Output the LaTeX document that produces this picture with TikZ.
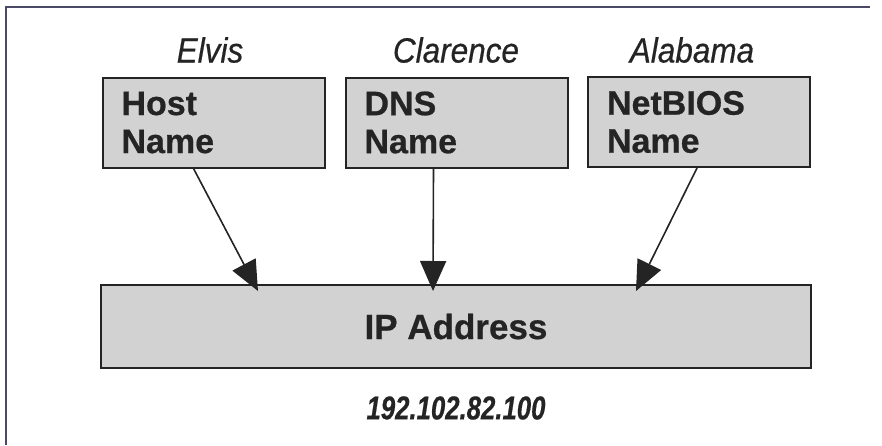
\documentclass[tikz,border=0pt]{standalone}
\usepackage{fontspec}
\setmainfont{Liberation Sans}
\newfontfamily\boxfont[FakeBold=0.6]{Liberation Sans}
\newfontfamily\labelfont[FakeStretch=0.9,FakeBold=0.5]{Liberation Sans}
\newfontfamily\numfont[FakeStretch=0.78,FakeBold=0.5]{Liberation Sans}
\usetikzlibrary{arrows.meta,calc}
\definecolor{boxgray}{HTML}{D2D2D2}
\definecolor{edge}{HTML}{242424}
\definecolor{frame}{HTML}{4A4A68}
\tikzset{
  namebox/.style={draw=edge, line width=2pt, fill=boxgray, minimum width=222pt, minimum height=90pt,
    text width=184pt, inner xsep=19pt, align=left, font=\boxfont\fontsize{34}{38}\selectfont\bfseries, text=edge},
  ipbox/.style={draw=edge, line width=2pt, fill=boxgray, minimum width=710pt, minimum height=83pt,
    font=\boxfont\fontsize{35}{40}\selectfont\bfseries, text=edge},
  toplabel/.style={font=\labelfont\fontsize{35}{40}\selectfont\itshape, text=edge},
  numlabel/.style={font=\numfont\fontsize{33}{38}\selectfont\bfseries\itshape, text=edge},
  conn/.style={draw=edge, line width=1.6pt, -{Triangle[length=30pt,width=26pt]}}
}
\begin{document}
\begin{tikzpicture}[x=1pt,y=-1pt]
\useasboundingbox (0,0) rectangle (882,445);
\fill[white] (0,0) rectangle (882,445);
\draw[frame, line width=2.2pt] (6,445) -- (6,7) -- (870,7);

\node[toplabel] (elvis) at (210,50) {Elvis};
\node[toplabel] (clarence) at (456,50) {Clarence};
\node[toplabel] (alabama) at (692,50) {Alabama};

\node[namebox] (host) at (213.5,122.5) {Host\\Name};
\node[namebox] (dns) at (456.5,122.5) {DNS\\Name};
\node[namebox] (netbios) at (699,122) {NetBIOS\\Name};

\node[ipbox] (ip) at (456,326.5) {IP Address};
\node[numlabel] (addr) at (456,408) {192.102.82.100};

\draw[conn] ([xshift=-20pt]host.south) -- ([xshift=-198pt,yshift=-7pt]ip.north);
\draw[conn] ([xshift=-23pt]dns.south) -- ([xshift=-23pt,yshift=-7pt]ip.north);
\draw[conn] ([xshift=-2pt]netbios.south) -- ([xshift=180pt,yshift=-7pt]ip.north);
\end{tikzpicture}
\end{document}
